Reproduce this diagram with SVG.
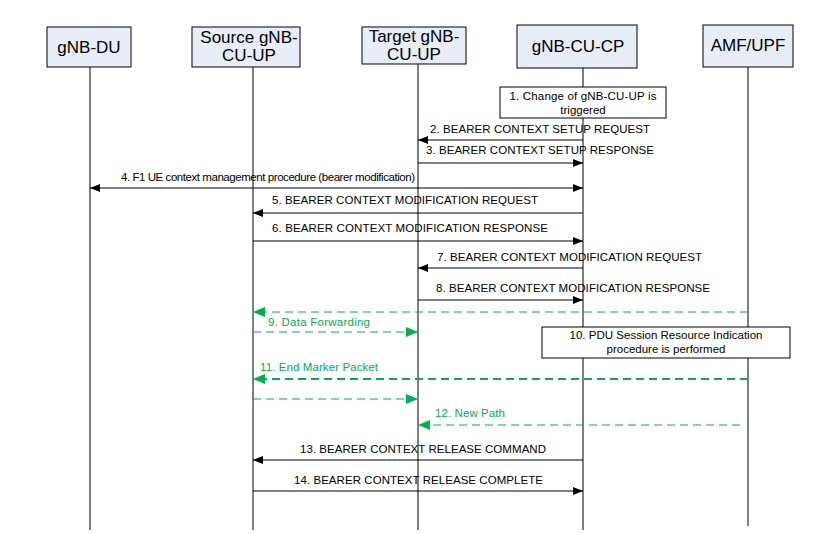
<svg xmlns="http://www.w3.org/2000/svg" width="824" height="534" viewBox="0 0 824 534">
<defs>
<style>
.box{fill:#e8eef8;stroke:#000;stroke-width:1}
.nt{font-family:"Liberation Sans",Arial,sans-serif;font-size:17px;fill:#000;text-anchor:middle}
.life{stroke:#000;stroke-width:1}
.msg{stroke:#000;stroke-width:1;fill:none}
.lbl{font-family:"Liberation Sans",Arial,sans-serif;font-size:11.5px;fill:#000}
.glbl{font-family:"Liberation Sans",Arial,sans-serif;font-size:11.5px;fill:#00b050}
.g{stroke:#00b050;stroke-width:1;fill:none;stroke-dasharray:8 5}
.g2{stroke:#00b050;stroke-width:2;fill:none;stroke-dasharray:8 5}
.note{fill:#fff;stroke:#000;stroke-width:1}
.ntxt{font-family:"Liberation Sans",Arial,sans-serif;font-size:11.5px;fill:#000;text-anchor:middle}
</style>
<marker id="ab" viewBox="0 0 10 8" refX="10" refY="4" markerWidth="10" markerHeight="8" markerUnits="userSpaceOnUse" orient="auto-start-reverse"><path d="M0,0 L10,4 L0,8 Z" fill="#000"/></marker>
<marker id="ag" viewBox="0 0 12 10" refX="12" refY="5" markerWidth="12" markerHeight="10" markerUnits="userSpaceOnUse" orient="auto-start-reverse"><path d="M0,0 L12,5 L0,10 Z" fill="#00b050"/></marker>
</defs>
<rect width="824" height="534" fill="#fff"/>
<g id="lifelines">
<line class="life" x1="90" y1="67" x2="90" y2="530"/>
<line class="life" x1="253" y1="67" x2="253" y2="530"/>
<line class="life" x1="418" y1="64" x2="418" y2="530"/>
<line class="life" x1="583" y1="68" x2="583" y2="530"/>
<line class="life" x1="748" y1="67" x2="748" y2="526"/>
</g>
<g id="gnb-du"><rect class="box" x="47" y="27" width="84" height="40"/><text class="nt" x="89" y="53">gNB-DU</text></g>
<g id="source-cu-up"><rect class="box" x="192" y="27" width="108" height="40"/><text class="nt" x="249" y="43">Source gNB-</text><text class="nt" x="249" y="61">CU-UP</text></g>
<g id="target-cu-up"><rect class="box" x="362" y="27" width="104" height="37"/><text class="nt" x="414" y="42">Target gNB-</text><text class="nt" x="414" y="60">CU-UP</text></g>
<g id="gnb-cu-cp"><rect class="box" x="517" y="25" width="120" height="43"/><text class="nt" x="578" y="52">gNB-CU-CP</text></g>
<g id="amf-upf"><rect class="box" x="703" y="25" width="90" height="42"/><text class="nt" x="748" y="51">AMF/UPF</text></g>
<g id="note1"><rect class="note" x="500" y="87" width="166" height="31"/><text class="ntxt" x="583" y="100" textLength="147">1. Change of gNB-CU-UP is</text><text class="ntxt" x="583" y="114">triggered</text></g>
<g id="note10"><rect class="note" x="542" y="327" width="248" height="31"/><text class="ntxt" x="666" y="339" textLength="193">10. PDU Session Resource Indication</text><text class="ntxt" x="666" y="353">procedure is performed</text></g>
<g id="connectors">
<line class="msg" x1="583" y1="140" x2="418" y2="140" marker-end="url(#ab)"/>
<text class="lbl" x="430" y="133" textLength="220">2. BEARER CONTEXT SETUP REQUEST</text>
<line class="msg" x1="418" y1="163" x2="583" y2="163" marker-end="url(#ab)"/>
<text class="lbl" x="426" y="154" textLength="228">3. BEARER CONTEXT SETUP RESPONSE</text>
<line class="msg" x1="90" y1="188" x2="583" y2="188" marker-start="url(#ab)" marker-end="url(#ab)"/>
<text class="lbl" x="121" y="181" textLength="294">4. F1 UE context management procedure (bearer modification)</text>
<line class="msg" x1="583" y1="213" x2="253" y2="213" marker-end="url(#ab)"/>
<text class="lbl" x="272" y="204" textLength="266">5. BEARER CONTEXT MODIFICATION REQUEST</text>
<line class="msg" x1="253" y1="241" x2="583" y2="241" marker-end="url(#ab)"/>
<text class="lbl" x="272" y="232" textLength="276">6. BEARER CONTEXT MODIFICATION RESPONSE</text>
<line class="msg" x1="583" y1="268" x2="418" y2="268" marker-end="url(#ab)"/>
<text class="lbl" x="437" y="261" textLength="265">7. BEARER CONTEXT MODIFICATION REQUEST</text>
<line class="msg" x1="418" y1="300" x2="583" y2="300" marker-end="url(#ab)"/>
<text class="lbl" x="436" y="292" textLength="274">8. BEARER CONTEXT MODIFICATION RESPONSE</text>
<line class="g" x1="748" y1="312" x2="253" y2="312" marker-end="url(#ag)"/>
<line class="g" x1="253" y1="332" x2="418" y2="332" marker-end="url(#ag)"/>
<text class="glbl" x="268" y="326" textLength="102">9. Data Forwarding</text>
<line class="g2" x1="748" y1="379" x2="253" y2="379" marker-end="url(#ag)"/>
<text class="glbl" x="260" y="371" textLength="118">11. End Marker Packet</text>
<line class="g" x1="253" y1="399" x2="418" y2="399" marker-end="url(#ag)"/>
<line class="g" x1="740" y1="425" x2="418" y2="425" marker-end="url(#ag)"/>
<text class="glbl" x="435" y="417" textLength="70">12. New Path</text>
<line class="msg" x1="583" y1="460" x2="253" y2="460" marker-end="url(#ab)"/>
<text class="lbl" x="300" y="453" textLength="246">13. BEARER CONTEXT RELEASE COMMAND</text>
<line class="msg" x1="253" y1="491" x2="583" y2="491" marker-end="url(#ab)"/>
<text class="lbl" x="294" y="484" textLength="249">14. BEARER CONTEXT RELEASE COMPLETE</text>
</g>
</svg>
